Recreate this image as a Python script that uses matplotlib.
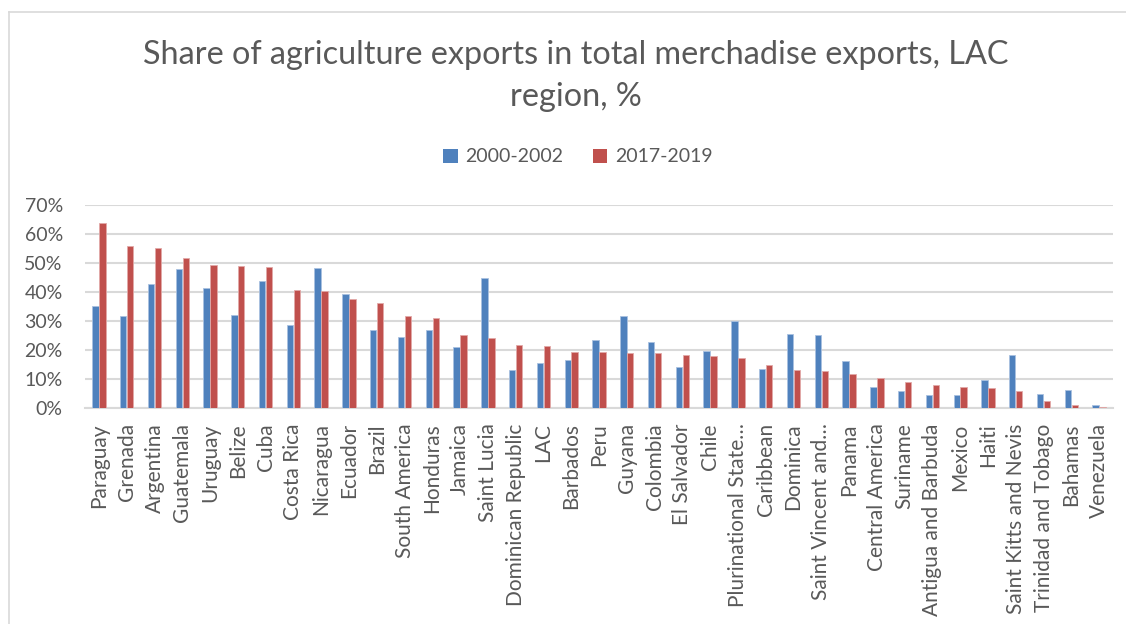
import numpy as np
import matplotlib.pyplot as plt
from matplotlib.lines import Line2D
from matplotlib.patches import Patch

# =========================================================
# Data
# =========================================================
countries = [
    "Paraguay", "Grenada", "Argentina", "Guatemala", "Uruguay", "Belize",
    "Cuba", "Costa Rica", "Nicaragua", "Ecuador", "Brazil", "South America",
    "Honduras", "Jamaica", "Saint Lucia", "Dominican Republic", "LAC",
    "Barbados", "Peru", "Guyana", "Colombia", "El Salvador", "Chile",
    "Plurinational State…", "Caribbean", "Dominica", "Saint Vincent and…",
    "Panama", "Central America", "Suriname", "Antigua and Barbuda", "Mexico",
    "Haiti", "Saint Kitts and Nevis", "Trinidad and Tobago", "Bahamas",
    "Venezuela",
]

share_2000_2002 = [
    35.1, 31.6, 42.6, 47.9, 41.3, 32.1, 43.9, 28.6, 48.3, 39.3, 26.9, 24.5,
    26.8, 20.9, 44.7, 13.1, 15.4, 16.4, 23.3, 31.7, 22.6, 14.0, 19.8,
    29.9, 13.6, 25.5, 25.1, 16.3, 7.1, 5.7, 4.5, 4.6,
    9.7, 18.3, 4.8, 6.1, 1.0,
]

share_2017_2019 = [
    63.7, 55.9, 55.2, 51.7, 49.4, 48.9, 48.6, 40.7, 40.3, 37.6, 36.2, 31.6,
    30.9, 25.1, 24.1, 21.7, 21.4, 19.3, 19.3, 18.9, 18.9, 18.4, 17.8,
    17.2, 14.8, 13.0, 12.6, 11.7, 10.3, 9.0, 7.8, 7.4,
    6.8, 5.7, 2.4, 0.9, 0.3,
]

series_labels = ["2000-2002", "2017-2019"]

# =========================================================
# Style
# =========================================================
W, H = 1126, 624
BLUE = "#4F81BD"
RED = "#C0504D"
GRID = "#D9D9D9"
TEXT = "#595959"
FONT = "Lato"

plt.rcParams["font.family"] = [FONT, "DejaVu Sans"]

fig = plt.figure(figsize=(W / 100, H / 100), dpi=100)

# axes box in pixel coords
left, right, top, bottom = 85, 1113, 205, 408
ax = fig.add_axes([left / W, 1 - bottom / H, (right - left) / W, (bottom - top) / H])

x = np.arange(len(countries))
bar_w = 0.23
ax.bar(x - bar_w / 2 - 0.01, np.array(share_2000_2002) / 100, width=bar_w,
       color=BLUE, edgecolor="#A9C1E0", linewidth=0.6, zorder=3)
ax.bar(x + bar_w / 2 + 0.01, np.array(share_2017_2019) / 100, width=bar_w,
       color=RED, edgecolor="#E2A9A8", linewidth=0.6, zorder=3)

ax.set_xlim(-0.5, len(countries) - 0.5)
ax.set_ylim(0, 0.7)
ax.set_yticks(np.arange(0, 0.71, 0.1))
ax.set_yticklabels([f"{int(round(v * 100))}%" for v in np.arange(0, 0.71, 0.1)])

ax.grid(axis="y", color=GRID, linewidth=1.5, zorder=0)
for s in ["top", "right", "left"]:
    ax.spines[s].set_visible(False)
ax.spines["bottom"].set_color(GRID)
ax.spines["bottom"].set_linewidth(1.5)

ax.set_xticks(x)
ax.set_xticklabels(countries, rotation=90, va="top", ha="center")
ax.tick_params(axis="x", length=0, pad=11, labelsize=15, labelcolor=TEXT)
ax.tick_params(axis="y", length=0, pad=16, labelsize=14, labelcolor=TEXT)

# Title
fig.text(0.511, 1 - 55 / H, "Share of agriculture exports in total merchadise exports, LAC",
         ha="center", va="center", fontsize=23.3, color=TEXT)
fig.text(0.511, 1 - 97 / H, "region, %",
         ha="center", va="center", fontsize=23.3, color=TEXT)

# Legend
handles = [Patch(facecolor=BLUE, edgecolor="none"), Patch(facecolor=RED, edgecolor="none")]
fig.legend(handles, series_labels, loc="center", bbox_to_anchor=(578 / W, 1 - 157 / H),
           ncol=2, frameon=False, fontsize=14, labelcolor=TEXT,
           handlelength=0.75, handleheight=0.75, handletextpad=0.4, columnspacing=1.5)

# chart area border (left and top edges visible)
fig.add_artist(Line2D([8.5 / W, 8.5 / W], [0, 1 - 12 / H], color="#D9D9D9", linewidth=1.2,
                      transform=fig.transFigure))
fig.add_artist(Line2D([8.5 / W, 1], [1 - 12 / H, 1 - 12 / H], color="#D9D9D9", linewidth=1.2,
                      transform=fig.transFigure))

fig.savefig("out.png", dpi=100, facecolor="white")
